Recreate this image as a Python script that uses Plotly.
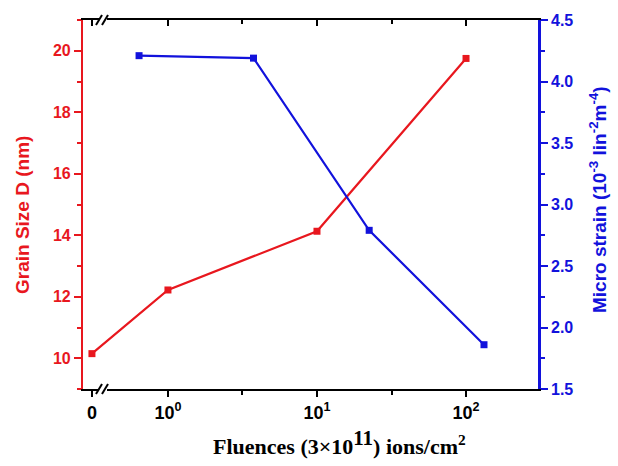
import math
import plotly.graph_objects as go

# Grain size (left axis) vs fluence
fluence_d = [0, 1, 10, 100]
grain_size = [10.15, 12.22, 14.13, 19.75]

# Micro strain (right axis) vs fluence
fluence_s = [0.64, 3.75, 22.4, 132]
micro_strain = [4.21, 4.19, 2.79, 1.86]

# x ticks (log10 positions, zero fluence sits left of the break)
ZERO_SLOT = -0.51
x_tick_vals = [ZERO_SLOT, 0, 1, 2]
x_tick_text = ["0", "10<sup>0</sup>", "10<sup>1</sup>", "10<sup>2</sup>"]
x_minor_vals = [0.5, 1.5]

left_ticks = [10, 12, 14, 16, 18, 20]
left_minor = [9, 11, 13, 15, 17, 19, 21]
right_ticks = [1.5, 2.0, 2.5, 3.0, 3.5, 4.0, 4.5]
right_minor = [1.75, 2.25, 2.75, 3.25, 3.75, 4.25]

RED = "#e8171e"
BLUE = "#1212dc"

W, H = 618, 466
ML, MR, MT, MB = 83, 80, 20, 77
PW, PH = W - ML - MR, H - MT - MB


def xpos(f):
    return ZERO_SLOT if f == 0 else math.log10(f)


def px_x(px):
    return (px - ML) / PW


def px_y(py):
    return 1 - (py - MT) / PH


fig = go.Figure()
fig.add_trace(go.Scatter(
    x=[xpos(f) for f in fluence_d], y=grain_size, mode="lines+markers",
    line=dict(color=RED, width=2.2), marker=dict(symbol="square", size=7, color=RED),
    showlegend=False, xaxis="x", yaxis="y"))
fig.add_trace(go.Scatter(
    x=[xpos(f) for f in fluence_s], y=micro_strain, mode="lines+markers",
    line=dict(color=BLUE, width=2.2), marker=dict(symbol="square", size=7, color=BLUE),
    showlegend=False, xaxis="x", yaxis="y2"))
# carrier for the mirrored top axis
fig.add_trace(go.Scatter(x=[0], y=[15], mode="markers", marker=dict(opacity=0),
                         hoverinfo="skip", showlegend=False, xaxis="x2", yaxis="y"))

tick_font = dict(family="Liberation Sans, Arial", size=16, weight="bold")

fig.update_layout(
    width=W, height=H, margin=dict(l=ML, r=MR, t=MT, b=MB),
    paper_bgcolor="white", plot_bgcolor="white",
    xaxis=dict(range=[-0.57, 2.483], tickmode="array", tickvals=x_tick_vals, ticktext=x_tick_text,
               ticks="outside", ticklen=6, tickwidth=2, tickcolor="black",
               showline=True, linecolor="black", linewidth=2, showgrid=False, zeroline=False,
               minor=dict(tickmode="array", tickvals=x_minor_vals, ticks="outside", ticklen=4,
                          tickwidth=2, tickcolor="black"),
               tickfont=dict(family="Liberation Sans, Arial", size=18, weight="bold", color="black")),
    xaxis2=dict(overlaying="x", matches="x", side="top", anchor="y", tickmode="array",
                tickvals=x_tick_vals, ticks="inside", ticklen=6, tickwidth=2, tickcolor="black",
                showticklabels=False, showline=True, linecolor="black", linewidth=2,
                showgrid=False, zeroline=False,
                minor=dict(tickmode="array", tickvals=x_minor_vals, ticks="inside", ticklen=4,
                           tickwidth=2, tickcolor="black")),
    yaxis=dict(range=[9, 21], tickmode="array", tickvals=left_ticks, ticks="outside",
               ticklen=7, tickwidth=2, tickcolor=RED, showline=True, linecolor=RED, linewidth=2.2,
               showgrid=False, zeroline=False,
               minor=dict(tickmode="array", tickvals=left_minor, ticks="outside", ticklen=4,
                          tickwidth=2, tickcolor=RED),
               tickfont=dict(tick_font, color=RED)),
    yaxis2=dict(range=[1.5, 4.5], overlaying="y", side="right", anchor="x", tickmode="array",
                tickvals=right_ticks, tickformat=".1f", ticks="outside", ticklen=7, tickwidth=2,
                tickcolor=BLUE, showline=True, linecolor=BLUE, linewidth=2.6,
                showgrid=False, zeroline=False,
                minor=dict(tickmode="array", tickvals=right_minor, ticks="outside", ticklen=4,
                           tickwidth=2, tickcolor=BLUE),
                tickfont=dict(tick_font, color=BLUE)),
)

# axis break marks on the bottom and top axes
shapes = []
for ybase in (MT + PH, MT):
    shapes.append(dict(type="rect", xref="paper", yref="paper",
                       x0=px_x(99), x1=px_x(107), y0=px_y(ybase + 3), y1=px_y(ybase - 3),
                       fillcolor="white", line=dict(width=0), layer="above"))
    for x0 in (96, 102):
        shapes.append(dict(type="line", xref="paper", yref="paper",
                           x0=px_x(x0), y0=px_y(ybase + 5), x1=px_x(x0 + 6), y1=px_y(ybase - 5),
                           line=dict(color="black", width=2), layer="above"))
fig.update_layout(shapes=shapes)

fig.add_annotation(text="Grain Size D (nm)", textangle=-90, showarrow=False,
                   xref="paper", yref="paper", x=px_x(22), y=px_y(215),
                   xanchor="center", yanchor="middle",
                   font=dict(family="Liberation Sans, Arial", size=19, weight="bold", color=RED))
fig.add_annotation(text="Micro strain (10<sup>-3</sup> lin<sup>-2</sup>m<sup>-4</sup>)",
                   textangle=-90, showarrow=False,
                   xref="paper", yref="paper", x=px_x(598), y=px_y(200),
                   xanchor="center", yanchor="middle",
                   font=dict(family="Liberation Sans, Arial", size=19, weight="bold", color=BLUE))
fig.add_annotation(text="Fluences (3×10<sup><span style='font-size:21px'>11</span></sup>) ions/cm<sup>2</sup>",
                   showarrow=False, xref="paper", yref="paper", x=px_x(339), y=px_y(443),
                   xanchor="center", yanchor="middle",
                   font=dict(family="Liberation Serif, Times New Roman", size=22, weight="bold",
                             color="black"))

fig.write_html("out.html")
